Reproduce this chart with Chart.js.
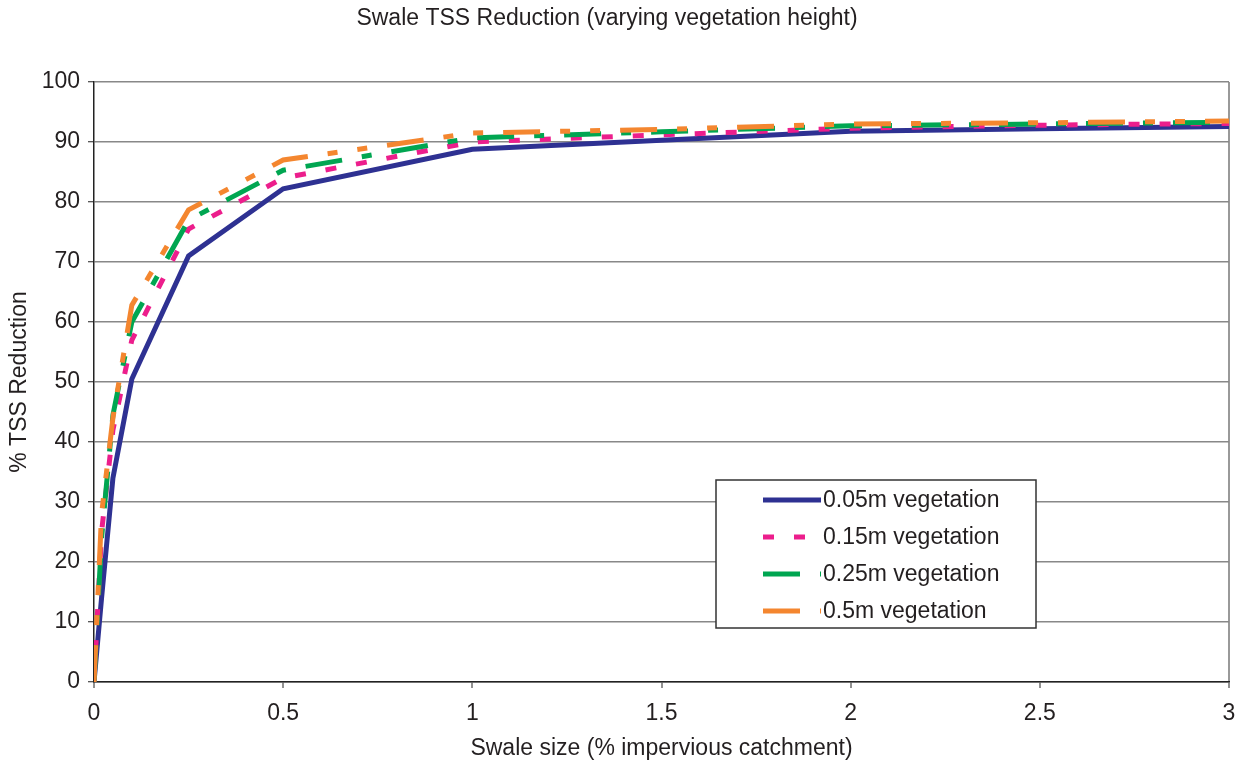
<!DOCTYPE html>
<html>
<head>
<meta charset="utf-8">
<title>Swale TSS Reduction</title>
<script src="https://cdn.jsdelivr.net/npm/chart.js@4.4.1/dist/chart.umd.min.js"></script>
<style>
  html, body { margin: 0; padding: 0; background: #fff; }
  #wrap { width: 1243px; height: 765px; position: relative; }
</style>
</head>
<body>
<div id="wrap"><canvas id="tssChart"></canvas></div>
<script>
// swale size, % of impervious catchment
var swaleSize = [0, 0.02, 0.05, 0.1, 0.25, 0.5, 1, 1.5, 2, 2.5, 3];

// % TSS reduction for each vegetation height
var veg005 = [0, 14, 34, 50.5, 71, 82.2, 88.8, 90.3, 91.8, 92.2, 92.6];
var veg015 = [0, 25, 42, 57, 75.5, 84, 90, 91.2, 92.3, 92.8, 93.1];
var veg025 = [0, 24, 44.5, 60, 77, 85.3, 90.7, 91.7, 92.7, 93.0, 93.3];
var veg05 = [0, 28, 44, 62.8, 78.7, 87, 91.5, 92.1, 93.0, 93.2, 93.5];

var seriesLabels = ['0.05m vegetation', '0.15m vegetation', '0.25m vegetation', '0.5m vegetation'];
var xTicks = [0, 0.5, 1, 1.5, 2, 2.5, 3];
var chartTitle = 'Swale TSS Reduction (varying vegetation height)';

var FONT = '"Liberation Sans", Arial, sans-serif';
var TEXT = '#231f20';
var SIZE = 23;

function toPoints(ys) {
    return swaleSize.map(function (x, i) { return { x: x, y: ys[i] }; });
}

function makeSet(label, ys, colour, dash, order) {
    return {
        label: label,
        data: toPoints(ys),
        borderColor: colour,
        backgroundColor: colour,
        borderWidth: 5,
        borderDash: dash,
        borderCapStyle: 'butt',
        pointRadius: 0,
        tension: 0,
        fill: false,
        order: order
    };
}

// title sits a little left of centre in the original, so draw it here
var topTitle = {
    id: 'topTitle',
    afterDraw: function (chart) {
        var ctx = chart.ctx;
        ctx.save();
        ctx.font = SIZE + 'px ' + FONT;
        ctx.fillStyle = TEXT;
        ctx.textAlign = 'center';
        ctx.textBaseline = 'middle';
        ctx.fillText(chartTitle, 607, 19);
        ctx.restore();
    }
};

// legend box drawn inside the plot, like the original
var boxLegend = {
    id: 'boxLegend',
    afterDraw: function (chart) {
        var ctx = chart.ctx;
        var left = 716, top = 480, w = 320, h = 148;
        ctx.save();
        ctx.fillStyle = '#fff';
        ctx.fillRect(left, top, w, h);
        ctx.strokeStyle = '#333';
        ctx.lineWidth = 1.5;
        ctx.strokeRect(left, top, w, h);
        ctx.font = SIZE + 'px ' + FONT;
        ctx.textBaseline = 'middle';
        chart.data.datasets.forEach(function (ds, i) {
            var y = top + 20 + i * 37;
            ctx.beginPath();
            ctx.setLineDash(ds.borderDash || []);
            ctx.lineWidth = ds.borderWidth;
            ctx.strokeStyle = ds.borderColor;
            ctx.lineCap = 'butt';
            ctx.moveTo(763, y);
            ctx.lineTo(821, y);
            ctx.stroke();
            ctx.setLineDash([]);
            ctx.fillStyle = TEXT;
            ctx.fillText(ds.label, 823, y + 1);
        });
        ctx.restore();
    }
};

var ctx = document.getElementById('tssChart').getContext('2d');
new Chart(ctx, {
    type: 'line',
    data: {
        datasets: [
            makeSet(seriesLabels[0], veg005, '#2e3192', [], 4),
            makeSet(seriesLabels[1], veg015, '#ec1e8c', [11, 20], 3),
            makeSet(seriesLabels[2], veg025, '#00a651', [37, 20, 10, 20], 2),
            makeSet(seriesLabels[3], veg05, '#f4862f', [37, 20, 10, 20, 10, 20], 1)
        ]
    },
    options: {
        responsive: true,
        maintainAspectRatio: false,
        animation: false,
        layout: { padding: { top: 82, right: 14, left: 0, bottom: 0 } },
        plugins: {
            legend: { display: false },
            tooltip: { enabled: false },
            title: { display: false }
        },
        scales: {
            x: {
                type: 'linear',
                min: 0,
                max: 3,
                afterBuildTicks: function (s) {
                    s.ticks = xTicks.map(function (v) { return { value: v }; });
                },
                afterFit: function (s) {
                    s.height = 83;
                    s.paddingRight = 0;
                    s.paddingLeft = 0;
                },
                ticks: {
                    color: TEXT,
                    font: { family: FONT, size: SIZE },
                    padding: 12,
                    maxRotation: 0,
                    callback: function (v) { return String(v); }
                },
                grid: {
                    drawOnChartArea: true,
                    color: function (c) { return c.tick && c.tick.value === 3 ? '#999' : 'rgba(0,0,0,0)'; },
                    lineWidth: 2,
                    tickColor: '#222',
                    tickLength: 6,
                    tickWidth: 1
                },
                border: { color: '#222', width: 1.5 },
                title: {
                    display: true,
                    text: 'Swale size (% impervious catchment)',
                    color: TEXT,
                    font: { family: FONT, size: SIZE },
                    padding: { top: 0, bottom: 3 }
                }
            },
            y: {
                min: 0,
                max: 100,
                ticks: { stepSize: 10, color: TEXT, font: { family: FONT, size: SIZE }, padding: 8 },
                afterFit: function (s) {
                    s.width = 94;
                    s.paddingTop = 0;
                },
                grid: {
                    color: '#888',
                    lineWidth: 1.5,
                    tickColor: '#222',
                    tickLength: 6,
                    tickWidth: 1
                },
                border: { color: '#222', width: 1.5 },
                title: {
                    display: true,
                    text: '% TSS Reduction',
                    color: TEXT,
                    font: { family: FONT, size: SIZE },
                    padding: { top: 6, bottom: 0 }
                }
            }
        }
    },
    plugins: [boxLegend, topTitle]
});
</script>
</body>
</html>
